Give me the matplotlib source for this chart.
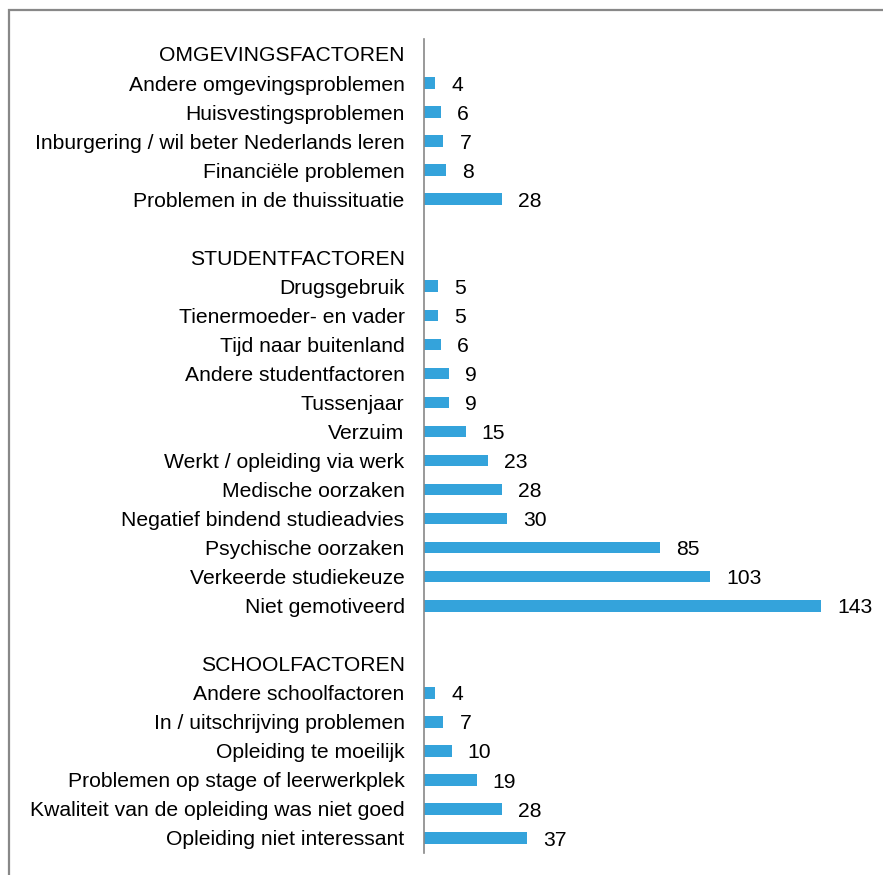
import matplotlib.pyplot as plt
from matplotlib.patches import Rectangle

plt.rcParams['font.family'] = ['Liberation Sans', 'DejaVu Sans']

# groups, top to bottom
omgeving_labels = ['Andere omgevingsproblemen', 'Huisvestingsproblemen',
                   'Inburgering / wil beter Nederlands leren',
                   'Financiële problemen', 'Problemen in de thuissituatie']
omgeving_values = [4, 6, 7, 8, 28]

student_labels = ['Drugsgebruik', 'Tienermoeder- en vader', 'Tijd naar buitenland',
                  'Andere studentfactoren', 'Tussenjaar', 'Verzuim',
                  'Werkt / opleiding via werk', 'Medische oorzaken',
                  'Negatief bindend studieadvies', 'Psychische oorzaken',
                  'Verkeerde studiekeuze', 'Niet gemotiveerd']
student_values = [5, 5, 6, 9, 9, 15, 23, 28, 30, 85, 103, 143]

school_labels = ['Andere schoolfactoren', 'In / uitschrijving problemen',
                 'Opleiding te moeilijk', 'Problemen op stage of leerwerkplek',
                 'Kwaliteit van de opleiding was niet goed',
                 'Opleiding niet interessant']
school_values = [4, 7, 10, 19, 28, 37]

headers = ['OMGEVINGSFACTOREN', 'STUDENTFACTOREN', 'SCHOOLFACTOREN']

# build one list of rows with header rows and blank spacer rows
labels = []
values = []
groups = [(omgeving_labels, omgeving_values),
          (student_labels, student_values),
          (school_labels, school_values)]
for g, (lab, val) in enumerate(groups):
    if g > 0:
        labels.append('')
        values.append(None)
    labels.append(headers[g])
    values.append(None)
    labels += lab
    values += val

bar_color = '#34A3DB'
fs = 15.2

fig = plt.figure(figsize=(8.83, 8.75), dpi=100)
ax = fig.add_axes([0.4802, 0.0257, 0.52, 0.9292])

pos = list(range(len(labels)))
bar_pos = [p for p, v in zip(pos, values) if v is not None]
bar_val = [v for v in values if v is not None]
ax.barh(bar_pos, bar_val, height=0.4, color=bar_color)

# value labels next to the bars
for p, v in zip(bar_pos, bar_val):
    ax.annotate(str(v), (v, p), xytext=(11.5, -1.5), textcoords='offset points',
                va='center', ha='left', fontsize=fs, color='black')

ax.set_yticks(pos)
ax.set_yticklabels(labels, fontsize=fs)
ax.tick_params(axis='y', length=0, pad=14)
ax.set_ylim(len(labels) - 0.5, -0.5)
ax.set_xlim(0, 165.2)
ax.set_xticks([])

for s in ['top', 'right', 'bottom']:
    ax.spines[s].set_visible(False)
ax.spines['left'].set_color('#888888')
ax.spines['left'].set_linewidth(1.2)

# outer frame (only top and left visible in the image)
fig.patches.append(Rectangle((9 / 883, -0.1), 1.2, 1.1 - 10 / 875,
                             transform=fig.transFigure, fill=False,
                             edgecolor='#888888', linewidth=1.6))

fig.savefig('out.png', dpi=100)
